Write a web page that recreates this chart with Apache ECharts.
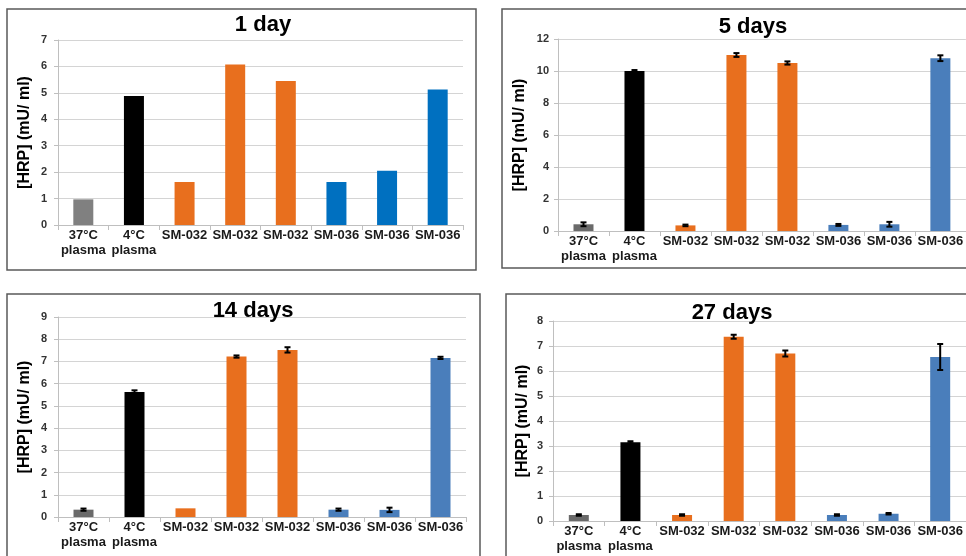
<!DOCTYPE html>
<html><head><meta charset="utf-8">
<script src="https://cdn.jsdelivr.net/npm/echarts@6/dist/echarts.min.js"></script>
<style>html,body{margin:0;padding:0;background:#fff}#c{width:966px;height:556px}</style>
</head><body><div id="c"></div>
<script>
const categories = ['37°C\nplasma', '4°C\nplasma', 'SM-032', 'SM-032', 'SM-032', 'SM-036', 'SM-036', 'SM-036'];
const panelTitles = ['1 day', '5 days', '14 days', '27 days'];
const yName = '[HRP] (mU/ ml)';
const values1 = [0.97, 4.88, 1.63, 6.07, 5.45, 1.63, 2.05, 5.13];
const values5 = [0.42, 10.0, 0.35, 11.0, 10.5, 0.38, 0.42, 10.8];
const values14 = [0.33, 5.62, 0.39, 7.22, 7.52, 0.33, 0.32, 7.16];
const values27 = [0.24, 3.15, 0.24, 7.37, 6.7, 0.24, 0.29, 6.56];
const errors1 = [];
const errors5 = [0.12, 0.06, 0.05, 0.12, 0.1, 0.06, 0.15, 0.18];
const errors14 = [0.05, 0.08, 0, 0.05, 0.12, 0.05, 0.1, 0.05];
const errors27 = [0.03, 0.04, 0.03, 0.08, 0.12, 0.03, 0.03, 0.52];
const yMax = [7, 12, 9, 8];
const yInterval = [1, 2, 1, 1];

const ORANGE = '#E86F1E';
const colors1 = ['#808080', '#000000', ORANGE, ORANGE, ORANGE, '#0070C0', '#0070C0', '#0070C0'];
const colorsLater = ['#6a6a6a', '#000000', ORANGE, ORANGE, ORANGE, '#4A7EBB', '#4A7EBB', '#4A7EBB'];

const allValues = [values1, values5, values14, values27];
const allErrors = [errors1, errors5, errors14, errors27];
const allColors = [colors1, colorsLater, colorsLater, colorsLater];

const grids = [
  {left: 58, top: 40, width: 405, height: 185},
  {left: 558, top: 39, width: 410, height: 192},
  {left: 58, top: 317, width: 408, height: 200},
  {left: 553, top: 321, width: 420, height: 200}
];
const nameGaps = [25, 30, 25, 22];
const labelMargins = [11, 9, 11, 10];
const titlePos = [[263, 25], [753, 27], [253, 311], [732, 313]];
const frames = [[7, 9, 469, 261], [502, 9, 480, 259], [7, 294, 473, 280], [506, 294, 480, 280]];

const FONT = 'Liberation Sans, Arial, sans-serif';
const chart = echarts.init(document.getElementById('c'), null, {renderer: 'canvas'});

const xAxes = [], yAxes = [], series = [], graphics = [];
for (let i = 0; i < 4; i++) {
  xAxes.push({
    type: 'category', gridIndex: i, data: categories,
    axisLine: {lineStyle: {color: '#BFBFBF', width: 1}},
    axisTick: {show: true, length: 5, lineStyle: {color: '#BFBFBF'}},
    axisLabel: {interval: 0, color: '#1a1a1a', fontFamily: FONT, fontWeight: 'bold', fontSize: 13, lineHeight: 15, margin: 3}
  });
  yAxes.push({
    type: 'value', gridIndex: i, min: 0, max: yMax[i], interval: yInterval[i],
    name: yName, nameLocation: 'middle', nameGap: nameGaps[i],
    nameTextStyle: {color: '#000', fontFamily: FONT, fontWeight: 'bold', fontSize: 16},
    axisLine: {show: true, lineStyle: {color: '#BFBFBF'}},
    axisTick: {show: true, length: 4, lineStyle: {color: '#BFBFBF'}},
    axisLabel: {color: '#333', fontFamily: FONT, fontWeight: 'bold', fontSize: 11, margin: labelMargins[i]},
    splitLine: {show: true, lineStyle: {color: '#D4D4D4', width: 1}}
  });
  const vals = allValues[i], cols = allColors[i], errs = allErrors[i];
  series.push({
    type: 'bar', xAxisIndex: i, yAxisIndex: i, barWidth: 20,
    data: vals.map((v, k) => ({value: v, itemStyle: {color: cols[k]}})),
    silent: true
  });
  if (errs.length) {
    series.push({
      type: 'custom', xAxisIndex: i, yAxisIndex: i, z: 5, silent: true,
      data: vals.map((v, k) => [k, v, errs[k]]),
      renderItem: function (params, api) {
        const x = api.value(0), v = api.value(1), e = api.value(2);
        if (!e) return null;
        const top = api.coord([x, v + e]);
        const bot = api.coord([x, v - e]);
        const w = 3;
        const st = {stroke: '#000', lineWidth: 2};
        return {type: 'group', children: [
          {type: 'line', shape: {x1: top[0], y1: top[1], x2: bot[0], y2: bot[1]}, style: st},
          {type: 'line', shape: {x1: top[0] - w, y1: top[1], x2: top[0] + w, y2: top[1]}, style: st},
          {type: 'line', shape: {x1: bot[0] - w, y1: bot[1], x2: bot[0] + w, y2: bot[1]}, style: st}
        ]};
      }
    });
  }
  const f = frames[i];
  graphics.push({type: 'rect', shape: {x: f[0], y: f[1], width: f[2], height: f[3]},
    style: {fill: 'none', stroke: '#595959', lineWidth: 1.5}, z: 0, silent: true});
  graphics.push({type: 'text', x: titlePos[i][0], y: titlePos[i][1], z: 10, silent: true,
    style: {text: panelTitles[i], fill: '#000', font: 'bold 22px ' + FONT, textAlign: 'center', textVerticalAlign: 'middle'}});
}

chart.setOption({
  animation: false,
  backgroundColor: '#fff',
  grid: grids,
  xAxis: xAxes,
  yAxis: yAxes,
  series: series,
  graphic: graphics
});
</script></body></html>
